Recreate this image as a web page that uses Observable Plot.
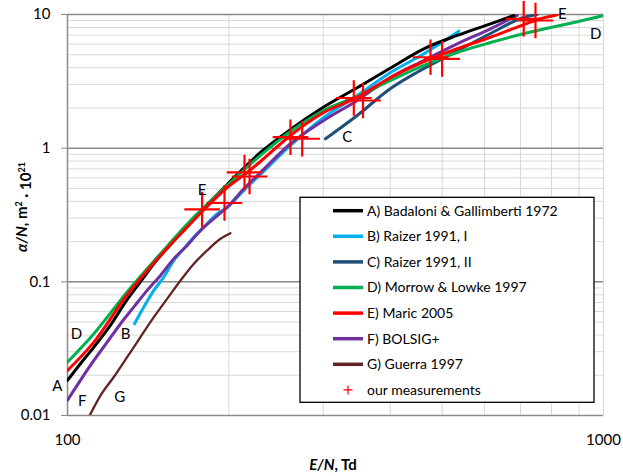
<!DOCTYPE html>
<html><head><meta charset="utf-8">
<script src="https://cdn.jsdelivr.net/npm/d3@7"></script>
<script src="https://cdn.jsdelivr.net/npm/@observablehq/plot@0.6"></script>
<style>body{margin:0;background:#fff} svg{display:block}</style>
</head><body><div id="chart"></div>
<script>
// E/N (Td), alpha/N (m^2 * 1e21)
const seriesA = [[100,0.0183],[105.7,0.0244],[112,0.0325],[120.3,0.0475],[129.2,0.0735],[136.8,0.1000],[144.9,0.1365],[155.7,0.1905],[177.1,0.336],[198.6,0.535],[229.1,0.929],[260.6,1.38],[300.6,2.03],[347.1,2.83],[400.6,3.98],[462.1,5.54],[533.4,6.97],[615.5,8.52],[680.4,9.83]];
const seriesB = [[133.4,0.0486],[138.8,0.0647],[144.9,0.0863],[151.2,0.1084],[157.9,0.1445],[164.8,0.177],[172.1,0.216],[179.6,0.2566],[190.3,0.323],[198.6,0.360],[213.3,0.483],[229.1,0.636],[260.6,1.047],[300.6,1.697],[347.1,2.478],[400.6,3.68],[462.1,5.08],[537.1,7.50]];
const seriesC = [[302.9,1.176],[347.1,1.757],[400.6,2.795],[449.2,3.70],[518.3,5.02],[615.5,7.21],[709.8,9.50],[752,10]];
const seriesD = [[100,0.0251],[112,0.0409],[129.2,0.084],[149.1,0.1622],[172.1,0.305],[198.6,0.526],[229.1,0.882],[260.6,1.334],[300.6,1.914],[347.1,2.436],[400.6,3.21],[462.1,4.156],[533.4,5.2],[615.5,6.17],[700.2,7.09],[796.5,8.0],[905.9,8.94],[1000,9.83]];
const seriesE = [[100,0.0217],[112,0.0354],[129.2,0.080],[149.1,0.1576],[167.2,0.2566],[179.1,0.342],[198.6,0.508],[216.4,0.658],[229.1,0.795],[260.6,1.245],[300.6,1.849],[347.1,2.394],[400.6,3.38],[462.1,4.45],[533.4,5.54],[615.5,6.76],[690.2,8.04],[762.9,9.29],[819.8,9.95]];
const seriesF = [[100,0.0130],[105.7,0.0183],[112,0.0258],[118.6,0.0354],[125.6,0.0486],[132.9,0.0647],[140.8,0.0863],[149.1,0.1117],[157.9,0.149],[167.2,0.187],[177.1,0.242],[187.5,0.297],[198.6,0.362],[213.3,0.497],[229.1,0.658],[260.6,1.079],[300.6,1.61],[347.1,2.274],[400.6,3.38],[462.1,4.53],[533.4,6.03],[615.5,7.82],[690.2,9.83]];
const seriesG = [[109.6,0.00973],[115.2,0.0141],[122,0.0194],[129.2,0.0273],[136.8,0.0386],[144.9,0.0544],[153.5,0.0748],[162.5,0.1023],[172.1,0.1365],[182.2,0.1718],[193,0.210],[201.4,0.231]];
const measurements = [[178.3,0.348],[196.3,0.389],[213.9,0.658],[218.6,0.614],[260.6,1.208],[274.1,1.176],[342.1,2.374],[355.9,2.274],[475.6,4.79],[500,4.66],[709.8,9.29],[746.6,9.02]];

const seriesNames = ["A) Badaloni & Gallimberti 1972","B) Raizer 1991, I","C) Raizer 1991, II","D) Morrow & Lowke 1997","E) Maric 2005","F) BOLSIG+","G) Guerra 1997"];
const seriesColors = ["#000000","#00b0f0","#1f4e79","#00b050","#ff0000","#7030a0","#632523"];
const seriesData = [seriesA,seriesB,seriesC,seriesD,seriesE,seriesF,seriesG];
const measurementName = "our measurements";

const curveLabels = [
  {t:"A",x:95.7,y:0.0165},{t:"F",x:106.5,y:0.0128},{t:"D",x:103.9,y:0.0404},
  {t:"B",x:128.3,y:0.0404},{t:"G",x:125.2,y:0.0137},{t:"E",x:178.3,y:0.485},
  {t:"C",x:332.5,y:1.208},{t:"E",x:837.5,y:10},{t:"D",x:966.8,y:7.17}
];

const yTicks = [0.01,0.1,1,10];
const xTicks = [100,1000];
const yMinor = [];
for (const d of [0.01,0.1,1]) for (let k=2;k<=9;k++) yMinor.push(+(d*k).toPrecision(3));
const xMinor = [200,300,400,500,600,700,800,900,1000];

const drawOrder = [6,1,2,5,0,3,4];

const chart = Plot.plot({
  width: 623, height: 476,
  marginLeft: 67, marginRight: 20, marginTop: 14, marginBottom: 61,
  style: {fontFamily: "Lato, 'Open Sans', sans-serif", fontSize: "15px", color: "#000", background: "#fff"},
  x: {type: "log", domain: [100,1000]},
  y: {type: "log", domain: [0.01,10]},
  marks: [
    Plot.ruleY(yMinor, {stroke:"#d9d9d9", strokeWidth:1}),
    Plot.ruleX(xMinor, {stroke:"#d9d9d9", strokeWidth:1}),
    Plot.ruleY(yTicks, {stroke:"#8a8a8a", strokeWidth:1.5}),
    Plot.ruleX([100], {stroke:"#8a8a8a", strokeWidth:1.5}),
    Plot.axisY({ticks: yTicks, tickFormat: d => String(d), tickSize: 6, tickPadding: 11, stroke: "#8a8a8a", fill: "#000", label: null}),
    Plot.axisX({ticks: xTicks, tickFormat: d => String(d), tickSize: 0, tickPadding: 19, fill: "#000", label: null}),
    ...drawOrder.map(i => Plot.line(seriesData[i], {x: d => d[0], y: d => d[1], stroke: seriesColors[i], strokeWidth: i === 6 ? 2.3 : 3, curve: "monotone-x", clip: true})),
    Plot.dot(measurements, {x: d => d[0], y: d => d[1], symbol: "plus", r: 11.5, stroke: "#ff0000", strokeWidth: 2.2}),
    Plot.text(curveLabels, {x: "x", y: "y", text: "t", fontSize: 15, fill: "#000"})
  ]
});
document.getElementById("chart").appendChild(chart);

const svg = d3.select(chart);
// y-axis title
const yt = svg.append("text").attr("transform","translate(27,207) rotate(-90)")
  .attr("text-anchor","middle").attr("font-weight","bold").attr("font-size",15).attr("fill","#000");
yt.append("tspan").attr("font-style","italic").text("α/N");
yt.append("tspan").text(", m");
yt.append("tspan").attr("font-size",9).attr("dy","-0.6em").text("2");
yt.append("tspan").attr("dy","0.6em").text(" · 10");
yt.append("tspan").attr("font-size",9).attr("dy","-0.6em").text("21");
// x-axis title
const xt = svg.append("text").attr("x",333).attr("y",470).attr("text-anchor","middle")
  .attr("font-weight","bold").attr("font-size",15).attr("fill","#000");
xt.append("tspan").attr("font-style","italic").text("E/N");
xt.append("tspan").text(", Td");

// legend
const lg = svg.append("g").attr("transform","translate(300,197.3)").attr("text-anchor","start");
lg.append("rect").attr("width",294).attr("height",205).attr("fill","#fff").attr("stroke","#000").attr("stroke-width",1.3);
seriesNames.forEach((name,i) => {
  const y = 13.4 + 25.6*i;
  lg.append("line").attr("x1",33).attr("x2",63).attr("y1",y).attr("y2",y).attr("stroke",seriesColors[i]).attr("stroke-width",3.5);
  lg.append("text").attr("x",67).attr("y",y).attr("dy","0.35em").attr("text-anchor","start").attr("font-size",14).attr("fill","#000").text(name);
});
{
  const y = 13.4 + 25.6*7;
  lg.append("path").attr("d",`M${48-4.5},${y}H${48+4.5}M48,${y-4.5}V${y+4.5}`).attr("stroke","#ff0000").attr("stroke-width",1.2).attr("fill","none");
  lg.append("text").attr("x",67).attr("y",y).attr("dy","0.35em").attr("text-anchor","start").attr("font-size",14).attr("fill","#000").text(measurementName);
}
</script></body></html>
